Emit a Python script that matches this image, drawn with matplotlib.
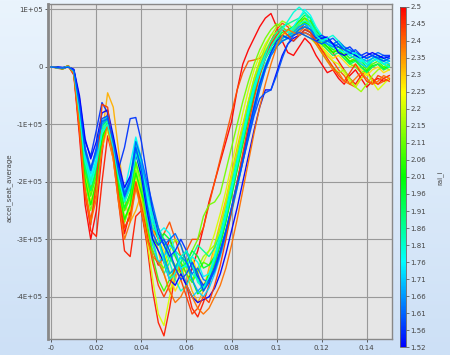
import numpy as np
import matplotlib.pyplot as plt
from matplotlib.colors import LinearSegmentedColormap, Normalize
from matplotlib.cm import ScalarMappable

# time grid, 2.5 ms steps
time_s = np.linspace(0, 0.15, 61)

# accel_seat_average per run, in units of 1e3
run01 = [0,-1,-3,2,-14, -120,-240,-300,-250,-150, -80,-140,-230,-290,-250, -200,-250,-300,-320,-345, -330,-300,-320,-360,-380, -350,-320,-280,-235,-200, -165,-130,-95,-40,5, 30,50,70,85,93, 70,45,25,20,35, 50,40,20,5,-10, -5,-20,-30,-15,-5, -20,-35,-25,-20,-25, -22]
run02 = [0,-1,-2,2,-10, -100,-210,-285,-295,-200, -120,-160,-240,-320,-330, -260,-250,-310,-390,-445, -468,-420,-360,-345,-380, -420,-435,-410,-380,-345, -305,-265,-220,-175,-130, -85,-45,-10,25,45, 60,70,60,55,65, 75,80,65,45,35, 25,10,-5,-20,-30, -15,-5,-25,-30,-20, -15]
run03 = [0,-2,-4,1,-12, -105,-215,-265,-220,-130, -90,-150,-220,-280,-260, -210,-230,-260,-280,-300, -290,-270,-300,-330,-320, -300,-300,-280,-240,-200, -160,-120,-80,-40,-10, 10,12,15,25,45, 65,76,70,55,60, 70,60,45,30,20, 10,-5,-15,-30,-35, -20,-10,-20,-30,-25, -20]
run04 = [0,-1,-3,2,-8, -80,-170,-210,-190,-120, -45,-70,-150,-230,-270, -250,-220,-240,-280,-320, -360,-390,-370,-340,-360, -390,-410,-390,-350,-310, -270,-230,-185,-140,-100, -60,-25,5,25,40, 50,55,50,60,75, 85,75,55,40,30, 25,30,20,10,15, 0,-10,0,5,-5, 0]
run05 = [0,-1,-3,1,-10, -95,-190,-240,-210,-140, -110,-160,-230,-270,-240, -190,-230,-290,-310,-300, -320,-360,-390,-370,-340, -330,-360,-380,-360,-320, -280,-235,-190,-150,-105, -60,-20,10,30,45, 55,60,55,65,80, 75,60,45,35,25, 15,20,10,0,5, -5,-15,-5,0,-10, -5]
run06 = [0,-1,-2,2,-9, -90,-185,-235,-200,-120, -90,-140,-210,-260,-250, -200,-240,-300,-370,-430, -450,-400,-350,-330,-350, -370,-360,-340,-320,-290, -255,-215,-170,-125,-80, -40,-5,20,40,55, 60,55,50,60,70, 80,70,50,35,20, 10,5,-10,-25,-35, -20,-10,-25,-40,-30, -20]
run07 = [0,-1,-3,1,-10, -85,-175,-220,-185,-110, -95,-140,-200,-250,-230, -170,-210,-240,-260,-300, -340,-320,-300,-310,-340, -370,-350,-330,-320,-310, -280,-240,-195,-150,-105, -60,-20,10,35,55, 70,80,75,65,60, 55,50,40,25,10, 0,-10,-5,-20,-35, -43,-30,-15,-5,0, -5]
run08 = [0,-1,-2,2,-11, -100,-200,-250,-210,-130, -100,-150,-220,-270,-240, -180,-220,-280,-320,-340, -350,-330,-345,-360,-340, -320,-300,-260,-240,-235, -220,-180,-140,-100,-60, -25,5,30,50,65, 75,70,60,70,80, 85,70,55,40,35, 30,25,15,5,0, -10,-5,10,15,5, 0]
run09 = [0,-1,-3,1,-9, -85,-180,-225,-190,-120, -105,-150,-210,-250,-225, -165,-200,-270,-330,-370, -390,-370,-350,-340,-360, -375,-355,-340,-345,-335, -300,-260,-215,-170,-125, -80,-40,-10,15,35, 45,50,55,65,75, 85,80,60,45,35, 25,30,20,10,15, 5,-5,5,10,0, 5]
run10 = [0,-1,-3,2,-10, -95,-195,-240,-200,-125, -95,-145,-215,-265,-240, -185,-220,-250,-270,-300, -330,-360,-350,-330,-340, -370,-395,-385,-360,-340, -310,-270,-225,-180,-135, -90,-50,-15,15,35, 50,55,50,60,70, 78,70,55,45,35, 25,30,20,8,12, 0,-8,2,5,-3, 2]
run11 = [0,-1,-3,1,-9, -80,-170,-215,-180,-105, -90,-135,-200,-245,-220, -150,-190,-260,-300,-310, -290,-300,-330,-350,-340, -320,-330,-350,-345,-330, -295,-255,-210,-165,-120, -75,-35,-5,20,40, 50,60,65,70,80, 90,85,65,50,40, 30,35,25,15,20, 10,0,10,15,5, 10]
run12 = [0,-1,-3,1,-9, -85,-175,-215,-175,-100, -85,-130,-190,-235,-210, -140,-170,-210,-250,-280, -300,-330,-350,-340,-320, -340,-370,-390,-370,-340, -305,-265,-220,-175,-130, -85,-45,-10,15,30, 40,45,50,55,65, 70,65,50,40,30, 20,25,15,5,10, 0,-10,0,5,-5, 0]
run13 = [0,-1,-2,1,-8, -75,-160,-200,-165,-100, -90,-130,-185,-230,-205, -135,-160,-230,-300,-340, -360,-340,-320,-330,-350, -330,-310,-320,-330,-315, -290,-250,-205,-160,-115, -70,-30,0,25,45, 60,70,75,80,85, 95,85,65,55,45, 35,40,30,20,25, 15,5,15,20,10, 15]
run14 = [0,-1,-2,1,-8, -75,-155,-195,-160,-105, -95,-130,-180,-220,-195, -125,-170,-240,-280,-290, -310,-340,-370,-390,-380, -360,-370,-385,-375,-350, -320,-285,-245,-200,-155, -110,-65,-25,5,25, 40,50,55,65,75, 80,75,60,50,45, 40,45,35,25,20, 10,5,15,20,15, 10]
run15 = [0,-1,-2,1,-7, -70,-150,-190,-165,-115, -100,-140,-190,-215,-170, -122,-160,-230,-270,-290, -280,-290,-320,-350,-345, -330,-340,-365,-360,-330, -295,-255,-210,-165,-120, -75,-35,-5,20,40, 55,65,60,70,85, 100,90,70,55,45, 35,30,25,30,20, 10,15,20,10,5, 10]
run16 = [0,-1,-2,1,-7, -70,-150,-185,-150,-95, -85,-125,-180,-225,-200, -140,-190,-260,-310,-340, -330,-310,-320,-350,-380, -400,-390,-400,-385,-360, -330,-295,-255,-210,-165, -120,-75,-35,-5,20, 35,45,50,60,70, 75,70,55,45,40, 35,40,30,20,15, 5,0,10,15,10, 5]
run17 = [0,-1,-2,1,-7, -65,-145,-180,-150,-100, -90,-130,-185,-230,-210, -150,-170,-210,-260,-300, -330,-360,-350,-330,-340, -370,-390,-380,-375,-355, -325,-290,-250,-205,-160, -115,-70,-30,0,25, 40,50,55,60,70, 75,65,50,45,40, 35,40,30,25,20, 15,10,15,20,15, 10]
run18 = [0,-1,-2,0,-6, -60,-140,-175,-145,-95, -90,-125,-175,-220,-195, -130,-160,-200,-240,-280, -310,-300,-290,-310,-340, -360,-350,-370,-375,-355, -325,-290,-250,-210,-165, -120,-80,-40,-5,20, 35,45,50,55,65, 70,65,55,50,45, 40,45,35,30,25, 20,15,20,25,20, 15]
run19 = [0,0,-1,0,-5, -55,-130,-155,-110,-62, -80,-150,-175,-140,-90, -88,-130,-190,-250,-290, -310,-330,-320,-300,-320, -350,-365,-380,-370,-350, -320,-285,-245,-200,-155, -110,-70,-30,0,25, 45,55,50,45,55, 65,60,50,55,50, 40,35,30,35,25, 20,25,20,15,20, 20]
run20 = [0,0,-1,0,-4, -50,-125,-160,-130,-80, -75,-120,-170,-210,-190, -150,-190,-250,-300,-320, -340,-370,-380,-360,-380, -400,-410,-405,-400,-385, -360,-325,-285,-245,-200, -155,-110,-70,-40,-40, -10,20,40,50,55, 60,55,45,50,52, 40,25,20,25,20, 15,20,25,20,15, 18]
run21 = [0,-1,-3,2,-12, -110,-225,-275,-200,-65, -70,-150,-230,-280,-260, -200,-240,-290,-340,-380, -400,-380,-350,-370,-400, -430,-420,-400,-410,-380, -345,-300,-250,-200,-150, -100,-55,-15,15,40, 55,65,55,45,55, 65,60,45,30,15, 0,-15,-25,-10,5, -10,-25,-30,-15,-20, -25]
run22 = [0,-1,-3,2,-11, -105,-215,-270,-230,-140, -100,-160,-240,-300,-270, -210,-250,-300,-330,-340, -360,-390,-410,-400,-380, -400,-420,-430,-420,-400, -380,-350,-310,-265,-215, -165,-115,-70,-30,5, 35,55,65,60,55, 60,55,40,25,10, -5,-10,-25,-30,-20, -10,-20,-30,-25,-15, -20]
run23 = [0,-1,-2,1,-8, -80,-165,-205,-170,-110, -100,-140,-195,-235,-210, -150,-180,-220,-260,-300, -340,-370,-360,-330,-320, -345,-375,-385,-365,-335, -300,-260,-215,-170,-125, -80,-40,-10,15,35, 50,65,80,95,104, 95,75,55,45,50, 55,45,30,20,25, 15,5,10,15,5, 0]
run24 = [0,-1,-2,0,-6, -65,-145,-180,-140,-90, -85,-130,-185,-225,-200, -140,-180,-240,-290,-310, -300,-320,-350,-370,-360, -340,-360,-390,-375,-350, -320,-285,-245,-205,-165, -125,-85,-55,-45,-40, -15,15,40,55,60, 55,50,45,40,45, 50,40,30,25,30, 20,15,20,15,10, 15]

# rai_i value of each run (colour)
rai_values = [2.50, 2.47, 2.42, 2.33, 2.28, 2.22, 2.16, 2.12, 2.07, 2.02, 1.97, 1.92,
              1.87, 1.82, 1.77, 1.72, 1.67, 1.62, 1.57, 1.52, 2.44, 2.39, 1.80, 1.60]

runs = [run01, run02, run03, run04, run05, run06, run07, run08, run09, run10, run11, run12,
        run13, run14, run15, run16, run17, run18, run19, run20, run21, run22, run23, run24]

x_ticks = [0, 0.02, 0.04, 0.06, 0.08, 0.1, 0.12, 0.14]
x_labels = ['-0', '0.02', '0.04', '0.06', '0.08', '0.1', '0.12', '0.14']
y_ticks = [1e5, 0, -1e5, -2e5, -3e5, -4e5]
y_labels = ['1E+05', '0', '-1E+05', '-2E+05', '-3E+05', '-4E+05']
cbar_labels = ['1.52', '1.56', '1.61', '1.66', '1.71', '1.76', '1.81', '1.86', '1.91', '1.96', '2.01',
               '2.06', '2.11', '2.15', '2.2', '2.25', '2.3', '2.35', '2.4', '2.45', '2.5']

cmap = LinearSegmentedColormap.from_list('rai', ['#0000ff', '#00ffff', '#00ff00', '#ffff00', '#ff0000'])
norm = Normalize(1.52, 2.5)

fig = plt.figure(figsize=(4.5, 3.55), dpi=100)

# light blue background gradient
bg = fig.add_axes([0, 0, 1, 1], zorder=-10)
grad = np.linspace(0, 1, 256).reshape(-1, 1)
bg_cmap = LinearSegmentedColormap.from_list('bg', ['#eaf4fd', '#cde0f6'])
bg.imshow(grad, aspect='auto', cmap=bg_cmap, extent=[0, 1, 0, 1])
bg.axis('off')

ax = fig.add_axes([0.107, 0.045, 0.764, 0.944])
ax.set_facecolor('#e6e6e6')
for vals, r in zip(runs, rai_values):
    assert len(vals) == len(time_s)
    ax.plot(time_s, np.array(vals) * 1e3, color=cmap(norm(r)), lw=1.0, alpha=0.95)

ax.set_xlim(-0.0014, 0.1512)
ax.set_ylim(-4.735e5, 1.097e5)
ax.set_xticks(x_ticks)
ax.set_xticklabels(x_labels)
ax.set_yticks(y_ticks)
ax.set_yticklabels(y_labels)
ax.tick_params(labelsize=5, colors='#444444', length=2.5, width=0.6, pad=1.5)
ax.grid(True, color='#999999', lw=0.8)
ax.set_axisbelow(True)
for s in ax.spines.values():
    s.set_color('#888888')
    s.set_linewidth(1.0)
ax.spines['left'].set_linewidth(2.0)
fig.text(0.02, 0.47, 'accel_seat_average', rotation=90, va='center', ha='center',
         fontsize=5, color='#444444')

cax = fig.add_axes([0.889, 0.022, 0.0133, 0.959])
sm = ScalarMappable(norm=norm, cmap=cmap)
cb = fig.colorbar(sm, cax=cax)
cb.set_ticks(np.linspace(1.52, 2.5, 21))
cb.set_ticklabels(cbar_labels)
cb.ax.tick_params(labelsize=5, colors='#444444', length=2, width=0.5, pad=1)
cb.outline.set_edgecolor('#666666')
cb.outline.set_linewidth(0.6)
fig.text(0.978, 0.5, 'rai_i', rotation=90, va='center', ha='center', fontsize=5, color='#444444')

fig.savefig('out.png', dpi=100)
